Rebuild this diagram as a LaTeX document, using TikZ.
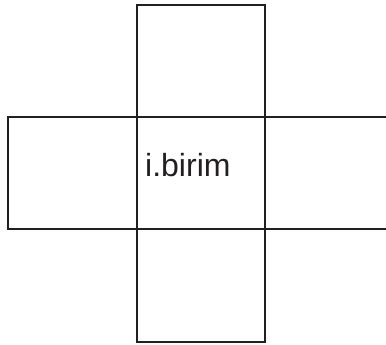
\documentclass[tikz,border=0pt]{standalone}
\usepackage{fontspec}
\setmainfont{Liberation Sans}
\definecolor{ink}{HTML}{231F20}
\begin{document}
\begin{tikzpicture}[x=1pt,y=-1pt,
  edge/.style={draw=ink,line width=2pt,line cap=rect},
  lbl/.style={inner sep=0pt,anchor=base west,text=ink,font=\fontsize{32}{36}\selectfont}]
\useasboundingbox (0,0) rectangle (386,345);
\coordinate (tl) at (136.7,5);
\coordinate (tr) at (265,5);
\coordinate (ml1) at (8,116.7);
\coordinate (mr1) at (386,116.7);
\coordinate (ml2) at (8,229.3);
\coordinate (mr2) at (386,229.3);
\coordinate (bl) at (136.7,341.5);
\coordinate (br) at (265,341.5);
% top, middle verticals and bottom
\draw[edge] (bl) -- (tl) -- (tr) -- (br) -- cycle;
% horizontal lines through the middle row
\draw[edge] (mr1) -- (ml1) -- (ml2) -- (mr2);
\node[lbl] (t) at (145,176.7) {i.birim};
\end{tikzpicture}
\end{document}
